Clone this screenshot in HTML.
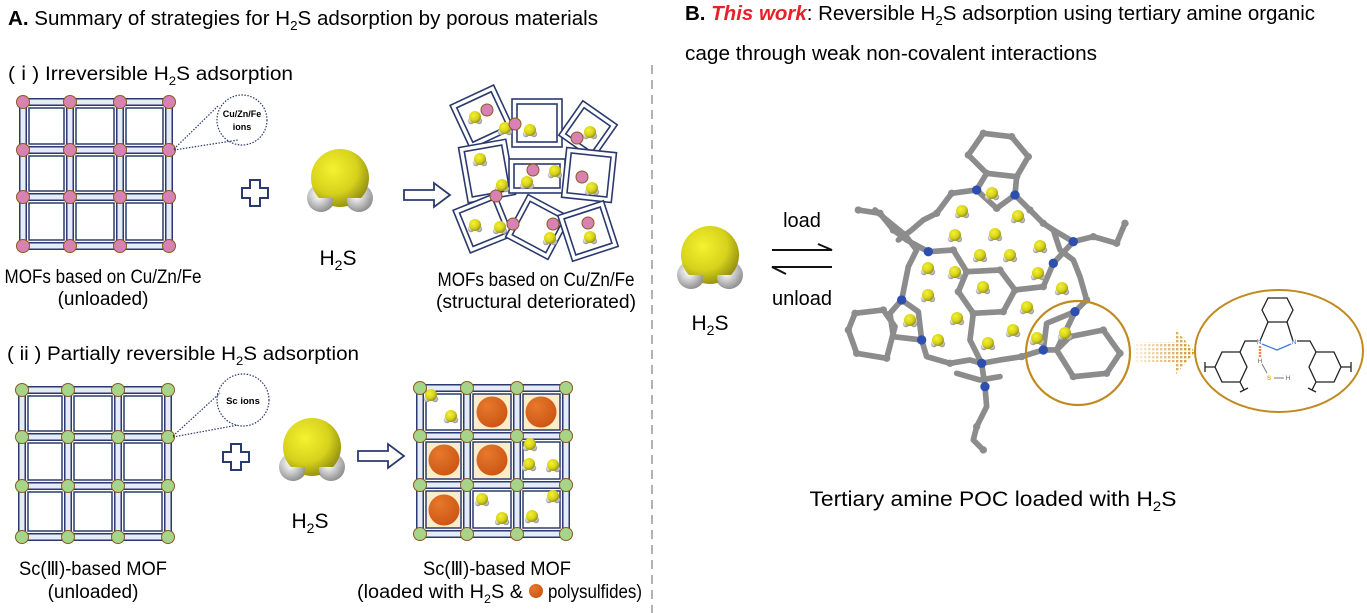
<!DOCTYPE html>
<html><head><meta charset="utf-8"><style>
html,body{margin:0;padding:0;background:#fff;}
svg{display:block;font-family:"Liberation Sans",sans-serif;}
</style></head><body>
<svg width="1367" height="613" viewBox="0 0 1367 613" xmlns="http://www.w3.org/2000/svg">
<defs>
<radialGradient id="yel" cx="0.38" cy="0.35" r="0.7"><stop offset="0" stop-color="#f4f230"/><stop offset="0.6" stop-color="#d6d21c"/><stop offset="1" stop-color="#8f8a10"/></radialGradient>
<radialGradient id="wh" cx="0.4" cy="0.35" r="0.7"><stop offset="0" stop-color="#ffffff"/><stop offset="1" stop-color="#8a8a8a"/></radialGradient>
<radialGradient id="org" cx="0.35" cy="0.3" r="0.8"><stop offset="0" stop-color="#e8782c"/><stop offset="1" stop-color="#c85412"/></radialGradient>
<pattern id="dots" width="4" height="4" patternUnits="userSpaceOnUse"><rect x="0" y="0" width="2.4" height="2.4" fill="#d08a10"/></pattern>
<linearGradient id="fade" x1="0" x2="1"><stop offset="0" stop-color="#fff" stop-opacity="0.05"/><stop offset="1" stop-color="#fff" stop-opacity="1"/></linearGradient>
<mask id="fm"><rect x="1130" y="320" width="70" height="70" fill="url(#fade)"/></mask>
<g id="mol"><circle cx="-4" cy="4" r="3.2" fill="url(#wh)"/><circle cx="4" cy="4" r="3.2" fill="url(#wh)"/><circle cx="0" cy="0" r="6" fill="url(#yel)"/></g>
<g id="bigmol"><circle cx="-19" cy="20" r="14" fill="url(#wh)"/><circle cx="19" cy="20" r="14" fill="url(#wh)"/><circle cx="0" cy="0" r="29" fill="url(#yel)"/><circle cx="-19" cy="22" r="12" fill="url(#wh)" clip-path="url(#lowclip)"/><circle cx="19" cy="22" r="12" fill="url(#wh)" clip-path="url(#lowclip)"/></g>
<clipPath id="lowclip"><rect x="-40" y="20" width="80" height="30"/></clipPath>
</defs>

<text x="8" y="25" font-size="20" textLength="590" lengthAdjust="spacingAndGlyphs"><tspan font-weight="bold">A.</tspan> Summary of strategies for H<tspan font-size="13" dy="5">2</tspan><tspan dy="-5">S adsorption by porous materials</tspan></text>
<text x="8" y="80" font-size="19" textLength="285" lengthAdjust="spacingAndGlyphs">( ⅰ ) Irreversible H<tspan font-size="12" dy="5">2</tspan><tspan dy="-5">S adsorption</tspan></text>
<text x="7" y="360" font-size="19" textLength="352" lengthAdjust="spacingAndGlyphs">( ii ) Partially reversible H<tspan font-size="12" dy="5">2</tspan><tspan dy="-5">S adsorption</tspan></text>

<line x1="652" y1="65" x2="652" y2="613" stroke="#999" stroke-width="1.5" stroke-dasharray="9,6"/>

<g>
<g stroke="#2b3a6e" stroke-width="8" fill="none">
<path d="M23 102V246M70 102V246M120 102V246M169 102V246M23 102H169M23 150H169M23 197H169M23 246H169"/></g>
<g stroke="#e6ecf6" stroke-width="5" fill="none">
<path d="M23 102V246M70 102V246M120 102V246M169 102V246M23 102H169M23 150H169M23 197H169M23 246H169"/></g>
<g fill="#fff" stroke="#2b3a6e" stroke-width="1.5">
<rect x="29" y="108" width="35" height="36"/><rect x="76" y="108" width="38" height="36"/><rect x="126" y="108" width="37" height="36"/>
<rect x="29" y="156" width="35" height="35"/><rect x="76" y="156" width="38" height="35"/><rect x="126" y="156" width="37" height="35"/>
<rect x="29" y="203" width="35" height="37"/><rect x="76" y="203" width="38" height="37"/><rect x="126" y="203" width="37" height="37"/></g>
<g fill="#d882b4" stroke="#8a5a20" stroke-width="1">
<circle cx="23" cy="102" r="6.5"/><circle cx="70" cy="102" r="6.5"/><circle cx="120" cy="102" r="6.5"/><circle cx="169" cy="102" r="6.5"/>
<circle cx="23" cy="150" r="6.5"/><circle cx="70" cy="150" r="6.5"/><circle cx="120" cy="150" r="6.5"/><circle cx="169" cy="150" r="6.5"/>
<circle cx="23" cy="197" r="6.5"/><circle cx="70" cy="197" r="6.5"/><circle cx="120" cy="197" r="6.5"/><circle cx="169" cy="197" r="6.5"/>
<circle cx="23" cy="246" r="6.5"/><circle cx="70" cy="246" r="6.5"/><circle cx="120" cy="246" r="6.5"/><circle cx="169" cy="246" r="6.5"/></g>
</g>
<g stroke="#2b3a6e" stroke-width="1.2" stroke-dasharray="1.5,1.5" fill="none">
<line x1="174" y1="149" x2="218" y2="106"/><line x1="174" y1="150" x2="238" y2="140"/>
<circle cx="242" cy="120" r="25"/></g>
<text x="242" y="117" font-size="9" font-weight="bold" text-anchor="middle">Cu/Zn/Fe</text>
<text x="242" y="130" font-size="9" font-weight="bold" text-anchor="middle">ions</text>

<path d="M250 180h10v8h8v10h-8v8h-10v-8h-8v-10h8z" fill="#fff" stroke="#2b3a6e" stroke-width="2"/>
<use href="#bigmol" x="340" y="178"/>
<text x="338" y="265" font-size="21" text-anchor="middle">H<tspan font-size="14" dy="5">2</tspan><tspan dy="-5">S</tspan></text>
<path d="M404 190h30v-7l16 12-16 12v-7h-30z" fill="#fff" stroke="#2b3a6e" stroke-width="1.8"/>

<g fill="#fff" stroke="#2b3a6e" stroke-width="1.6">
<g transform="translate(482,117) rotate(-25)"><rect x="-24" y="-24" width="48" height="48"/><rect x="-19" y="-19" width="38" height="38"/></g>
<g transform="translate(537,124)"><rect x="-25" y="-25" width="50" height="48"/><rect x="-20" y="-20" width="40" height="38"/></g>
<g transform="translate(588,130) rotate(35)"><rect x="-21" y="-21" width="42" height="42"/><rect x="-16" y="-16" width="32" height="32"/></g>
<g transform="translate(487,171) rotate(-10)"><rect x="-24" y="-28" width="48" height="56"/><rect x="-19" y="-23" width="38" height="46"/></g>
<g transform="translate(537,176)"><rect x="-28" y="-17" width="56" height="34"/><rect x="-23" y="-12" width="46" height="24"/></g>
<g transform="translate(589,175) rotate(6)"><rect x="-25" y="-25" width="50" height="50"/><rect x="-20" y="-20" width="40" height="40"/></g>
<g transform="translate(483,223) rotate(-22)"><rect x="-23" y="-23" width="46" height="46"/><rect x="-18" y="-18" width="36" height="36"/></g>
<g transform="translate(538,227) rotate(28)"><rect x="-24" y="-24" width="48" height="48"/><rect x="-19" y="-19" width="38" height="38"/></g>
<g transform="translate(588,231) rotate(-18)"><rect x="-24" y="-24" width="48" height="48"/><rect x="-19" y="-19" width="38" height="38"/></g>
</g>
<g>
<use href="#mol" x="475" y="117"/><use href="#mol" x="505" y="128"/><use href="#mol" x="530" y="130"/><use href="#mol" x="590" y="132"/>
<use href="#mol" x="480" y="159"/><use href="#mol" x="502" y="185"/><use href="#mol" x="527" y="182"/><use href="#mol" x="555" y="171"/>
<use href="#mol" x="592" y="188"/><use href="#mol" x="475" y="225"/><use href="#mol" x="500" y="227"/><use href="#mol" x="550" y="238"/><use href="#mol" x="590" y="237"/>
</g>
<g fill="#d882b4" stroke="#8a5a20" stroke-width="1">
<circle cx="487" cy="110" r="6"/><circle cx="515" cy="124" r="6"/><circle cx="577" cy="138" r="6"/><circle cx="533" cy="170" r="6"/><circle cx="582" cy="177" r="6"/><circle cx="496" cy="196" r="6"/><circle cx="513" cy="224" r="6"/><circle cx="553" cy="224" r="6"/><circle cx="588" cy="223" r="6"/></g>

<text x="103" y="283" font-size="19" text-anchor="middle" textLength="197" lengthAdjust="spacingAndGlyphs">MOFs based on Cu/Zn/Fe</text>
<text x="103" y="305" font-size="19" text-anchor="middle">(unloaded)</text>
<text x="536" y="286" font-size="19" text-anchor="middle" textLength="197" lengthAdjust="spacingAndGlyphs">MOFs based on Cu/Zn/Fe</text>
<text x="536" y="308" font-size="19" text-anchor="middle" textLength="200" lengthAdjust="spacingAndGlyphs">(structural  deteriorated)</text>

<g>
<g stroke="#2b3a6e" stroke-width="8" fill="none"><path d="M22 390V537M68 390V537M118 390V537M168 390V537M22 390H168M22 437H168M22 486H168M22 537H168"/></g>
<g stroke="#e6ecf6" stroke-width="5" fill="none"><path d="M22 390V537M68 390V537M118 390V537M168 390V537M22 390H168M22 437H168M22 486H168M22 537H168"/></g>
<g fill="#fff" stroke="#2b3a6e" stroke-width="1.5">
<rect x="28" y="396" width="34" height="35"/><rect x="74" y="396" width="38" height="35"/><rect x="124" y="396" width="38" height="35"/>
<rect x="28" y="443" width="34" height="37"/><rect x="74" y="443" width="38" height="37"/><rect x="124" y="443" width="38" height="37"/>
<rect x="28" y="492" width="34" height="39"/><rect x="74" y="492" width="38" height="39"/><rect x="124" y="492" width="38" height="39"/></g>
<g fill="#a6d48a" stroke="#8a5a20" stroke-width="1">
<circle cx="22" cy="390" r="6.5"/><circle cx="68" cy="390" r="6.5"/><circle cx="118" cy="390" r="6.5"/><circle cx="168" cy="390" r="6.5"/>
<circle cx="22" cy="437" r="6.5"/><circle cx="68" cy="437" r="6.5"/><circle cx="118" cy="437" r="6.5"/><circle cx="168" cy="437" r="6.5"/>
<circle cx="22" cy="486" r="6.5"/><circle cx="68" cy="486" r="6.5"/><circle cx="118" cy="486" r="6.5"/><circle cx="168" cy="486" r="6.5"/>
<circle cx="22" cy="537" r="6.5"/><circle cx="68" cy="537" r="6.5"/><circle cx="118" cy="537" r="6.5"/><circle cx="168" cy="537" r="6.5"/></g>
</g>
<g stroke="#2b3a6e" stroke-width="1.2" stroke-dasharray="1.5,1.5" fill="none">
<line x1="173" y1="436" x2="220" y2="393"/><line x1="173" y1="437" x2="238" y2="425"/>
<circle cx="243" cy="400" r="26"/></g>
<text x="243" y="404" font-size="9.5" font-weight="bold" text-anchor="middle">Sc ions</text>

<path d="M231 444h10v8h8v10h-8v8h-10v-8h-8v-10h8z" fill="#fff" stroke="#2b3a6e" stroke-width="2"/>
<use href="#bigmol" x="312" y="447"/>
<text x="310" y="528" font-size="21" text-anchor="middle">H<tspan font-size="14" dy="5">2</tspan><tspan dy="-5">S</tspan></text>
<path d="M358 451h30v-7l16 12-16 12v-7h-30z" fill="#fff" stroke="#2b3a6e" stroke-width="1.8"/>

<g>
<g stroke="#2b3a6e" stroke-width="8" fill="none"><path d="M420 388V534M467 388V534M517 388V534M566 388V534M420 388H566M420 436H566M420 485H566M420 534H566"/></g>
<g stroke="#e6ecf6" stroke-width="5" fill="none"><path d="M420 388V534M467 388V534M517 388V534M566 388V534M420 388H566M420 436H566M420 485H566M420 534H566"/></g>
<g stroke="#2b3a6e" stroke-width="1.5">
<rect x="426" y="394" width="35" height="36" fill="#fff"/><rect x="473" y="394" width="38" height="36" fill="#fbeccb"/><rect x="523" y="394" width="37" height="36" fill="#fbeccb"/>
<rect x="426" y="442" width="35" height="37" fill="#fbeccb"/><rect x="473" y="442" width="38" height="37" fill="#fbeccb"/><rect x="523" y="442" width="37" height="37" fill="#fff"/>
<rect x="426" y="491" width="35" height="37" fill="#fbeccb"/><rect x="473" y="491" width="38" height="37" fill="#fff"/><rect x="523" y="491" width="37" height="37" fill="#fff"/></g>
<g fill="url(#org)"><circle cx="492" cy="412" r="15.5"/><circle cx="541" cy="412" r="15.5"/><circle cx="444" cy="460" r="15.5"/><circle cx="492" cy="460" r="15.5"/><circle cx="444" cy="510" r="15.5"/></g>
<use href="#mol" x="431" y="395"/><use href="#mol" x="451" y="416"/><use href="#mol" x="530" y="444"/><use href="#mol" x="529" y="464"/><use href="#mol" x="553" y="465"/>
<use href="#mol" x="482" y="499"/><use href="#mol" x="502" y="518"/><use href="#mol" x="532" y="516"/><use href="#mol" x="553" y="496"/>
<g fill="#a6d48a" stroke="#8a5a20" stroke-width="1">
<circle cx="420" cy="388" r="6.5"/><circle cx="467" cy="388" r="6.5"/><circle cx="517" cy="388" r="6.5"/><circle cx="566" cy="388" r="6.5"/>
<circle cx="420" cy="436" r="6.5"/><circle cx="467" cy="436" r="6.5"/><circle cx="517" cy="436" r="6.5"/><circle cx="566" cy="436" r="6.5"/>
<circle cx="420" cy="485" r="6.5"/><circle cx="467" cy="485" r="6.5"/><circle cx="517" cy="485" r="6.5"/><circle cx="566" cy="485" r="6.5"/>
<circle cx="420" cy="534" r="6.5"/><circle cx="467" cy="534" r="6.5"/><circle cx="517" cy="534" r="6.5"/><circle cx="566" cy="534" r="6.5"/></g>
</g>

<text x="93" y="575" font-size="19" text-anchor="middle" textLength="148" lengthAdjust="spacingAndGlyphs">Sc(Ⅲ)-based MOF</text>
<text x="93" y="598" font-size="19" text-anchor="middle">(unloaded)</text>
<text x="497" y="575" font-size="19" text-anchor="middle" textLength="148" lengthAdjust="spacingAndGlyphs">Sc(Ⅲ)-based MOF</text>
<text x="357" y="598" font-size="19" textLength="166" lengthAdjust="spacingAndGlyphs">(loaded with H<tspan font-size="12" dy="5">2</tspan><tspan dy="-5">S &amp;</tspan></text>
<circle cx="536" cy="591" r="7" fill="url(#org)"/>
<text x="548" y="598" font-size="19" textLength="94" lengthAdjust="spacingAndGlyphs">polysulfides)</text>

<text x="685" y="20" font-size="20" textLength="630" lengthAdjust="spacingAndGlyphs"><tspan font-weight="bold">B. </tspan><tspan font-weight="bold" font-style="italic" fill="#e8202a">This work</tspan>: Reversible H<tspan font-size="13" dy="5">2</tspan><tspan dy="-5">S adsorption using  tertiary amine organic</tspan></text>
<text x="685" y="60" font-size="20" textLength="412" lengthAdjust="spacingAndGlyphs">cage through weak non-covalent interactions</text>

<use href="#bigmol" x="710" y="255"/>
<text x="710" y="330" font-size="21" text-anchor="middle">H<tspan font-size="14" dy="5">2</tspan><tspan dy="-5">S</tspan></text>
<text x="802" y="227" font-size="20" text-anchor="middle">load</text>
<text x="802" y="305" font-size="20" text-anchor="middle">unload</text>
<g stroke="#111" stroke-width="2" fill="none">
<path d="M772 250H832L818 244"/><path d="M832 267H772L786 274"/></g>

<g transform="translate(840,120) scale(0.3333)" fill="none" stroke-linecap="round" stroke-linejoin="round">
<g stroke="#8c8c8c" stroke-width="17">
<path d="M430 40L515 50L565 110L530 170L440 160L385 105Z"/>
<path d="M440 160L410 210L470 265L525 225L530 170"/>
<path d="M410 210L335 220L290 280L250 300L215 330L175 360"/>
<path d="M55 270L120 280L160 330L200 360L265 395L340 390L380 455"/>
<path d="M105 270L140 300L195 345L230 390L205 440L195 490L185 540"/>
<path d="M525 225L570 270L610 310L640 330L700 365L760 350L830 370L855 310"/>
<path d="M700 365L640 430L610 500L525 510"/>
<path d="M640 330L660 390L700 420L720 470L740 540L705 575"/>
<path d="M380 455L480 450L525 510L490 575L400 580L355 515Z"/>
<path d="M45 580L130 570L165 620L140 715L50 700L25 630Z"/>
<path d="M185 540L235 575L245 660L160 650L150 580Z"/>
<path d="M245 660L260 710L330 730L390 720L425 730"/>
<path d="M400 580L390 660L425 730L435 800L440 860L410 920L400 960L430 990"/>
<path d="M425 730L480 720L545 710L610 690"/>
<path d="M705 575L620 610L610 690L650 690L705 575"/>
<path d="M650 690L690 650L790 630L840 700L800 760L700 770Z"/>
<path d="M350 760L420 780L480 770"/>
</g>
<g fill="#8c8c8c">
<circle cx="430" cy="40" r="11"/><circle cx="515" cy="50" r="11"/><circle cx="565" cy="110" r="11"/><circle cx="385" cy="105" r="11"/><circle cx="440" cy="160" r="11"/><circle cx="530" cy="170" r="11"/>
<circle cx="470" cy="265" r="11"/><circle cx="335" cy="220" r="11"/><circle cx="290" cy="280" r="11"/><circle cx="55" cy="270" r="11"/><circle cx="120" cy="280" r="11"/><circle cx="160" cy="330" r="11"/><circle cx="340" cy="390" r="11"/>
<circle cx="570" cy="270" r="11"/><circle cx="610" cy="310" r="11"/><circle cx="760" cy="350" r="11"/><circle cx="830" cy="370" r="11"/><circle cx="855" cy="310" r="11"/>
<circle cx="380" cy="455" r="11"/><circle cx="480" cy="450" r="11"/><circle cx="525" cy="510" r="11"/><circle cx="490" cy="575" r="11"/><circle cx="400" cy="580" r="11"/><circle cx="355" cy="515" r="11"/>
<circle cx="45" cy="580" r="11"/><circle cx="130" cy="570" r="11"/><circle cx="140" cy="715" r="11"/><circle cx="50" cy="700" r="11"/><circle cx="25" cy="630" r="11"/>
<circle cx="330" cy="730" r="11"/><circle cx="545" cy="710" r="11"/><circle cx="410" cy="920" r="11"/><circle cx="430" cy="990" r="11"/>
<circle cx="690" cy="650" r="11"/><circle cx="790" cy="630" r="11"/><circle cx="840" cy="700" r="11"/><circle cx="800" cy="760" r="11"/><circle cx="700" cy="770" r="11"/><circle cx="610" cy="500" r="11"/><circle cx="740" cy="540" r="11"/>
</g>
<g fill="#2f4fb0">
<circle cx="410" cy="210" r="14"/><circle cx="525" cy="225" r="14"/><circle cx="265" cy="395" r="14"/><circle cx="700" cy="365" r="14"/><circle cx="640" cy="430" r="14"/><circle cx="185" cy="540" r="14"/><circle cx="245" cy="660" r="14"/><circle cx="425" cy="730" r="14"/><circle cx="435" cy="800" r="14"/><circle cx="705" cy="575" r="14"/><circle cx="610" cy="690" r="14"/></g>
</g>
<g>
<use href="#mol" x="992" y="193"/><use href="#mol" x="962" y="211"/><use href="#mol" x="1018" y="216"/><use href="#mol" x="955" y="235"/><use href="#mol" x="995" y="234"/>
<use href="#mol" x="1040" y="246"/><use href="#mol" x="980" y="255"/><use href="#mol" x="1010" y="255"/><use href="#mol" x="928" y="268"/><use href="#mol" x="955" y="272"/>
<use href="#mol" x="1038" y="273"/><use href="#mol" x="983" y="287"/><use href="#mol" x="1062" y="288"/><use href="#mol" x="928" y="295"/><use href="#mol" x="1027" y="307"/>
<use href="#mol" x="957" y="318"/><use href="#mol" x="910" y="320"/><use href="#mol" x="1013" y="330"/><use href="#mol" x="1065" y="333"/><use href="#mol" x="988" y="343"/>
<use href="#mol" x="938" y="340"/><use href="#mol" x="1037" y="338"/></g>
<circle cx="1078" cy="353" r="52" fill="none" stroke="#c08a20" stroke-width="2.2"/>

<g mask="url(#fm)"><path d="M1134 342H1176V330L1195 352L1176 374V362H1134Z" fill="url(#dots)"/></g>

<ellipse cx="1279" cy="351" rx="84" ry="61" fill="#fff" stroke="#c08a20" stroke-width="2"/>
<g stroke="#222" stroke-width="1.3" fill="none">
<path d="M1268 298L1287 298L1293 310L1287 322L1268 322L1262 310Z"/>
<path d="M1268 322L1260 341M1287 322L1293 341"/>
<path d="M1257 341H1245L1240 352M1297 341H1310L1316 352"/>
<path d="M1240 352L1222 352L1215 367L1222 382L1240 382L1247 367Z"/>
<path d="M1316 352L1334 352L1341 367L1334 382L1316 382L1309 367Z"/>
<path d="M1215 367H1205M1205 362V372M1341 367H1351M1351 362V372"/>
<path d="M1240 382L1244 390M1240 392L1248 388M1316 382L1312 390M1308 388L1316 392"/>
</g>
<path d="M1262 344L1277 350L1291 344" stroke="#4a7bd0" stroke-width="1.3" fill="none"/>
<line x1="1260" y1="346" x2="1260" y2="357" stroke="#f08050" stroke-width="2.5" stroke-dasharray="2,1"/>
<line x1="1262" y1="364" x2="1267" y2="373" stroke="#777" stroke-width="1"/>
<line x1="1274" y1="378" x2="1284" y2="378" stroke="#777" stroke-width="1"/>
<g font-size="6.5" text-anchor="middle">
<text x="1259" y="344" fill="#3a6ac8">N</text><text x="1294" y="344" fill="#3a6ac8">N</text>
<text x="1260" y="363" fill="#666">H</text><text x="1269" y="380" fill="#f0b010" font-weight="bold">S</text><text x="1288" y="380" fill="#666">H</text></g>

<text x="993" y="506" font-size="21" text-anchor="middle" textLength="367" lengthAdjust="spacingAndGlyphs">Tertiary amine POC loaded with H<tspan font-size="14" dy="5">2</tspan><tspan dy="-5">S</tspan></text>
</svg>
</body></html>
